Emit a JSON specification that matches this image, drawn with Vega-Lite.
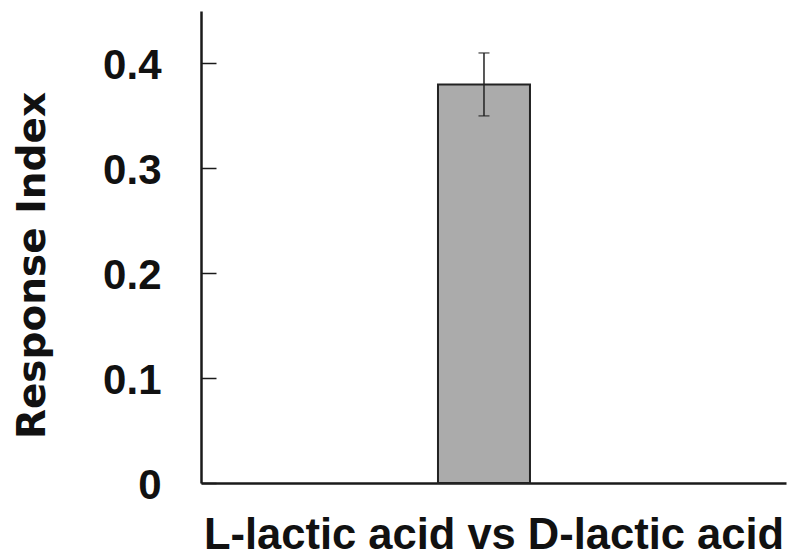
{
  "$schema": "https://vega.github.io/schema/vega-lite/v6.json",
  "autosize": {"type": "none"},
  "padding": {"left": 201, "top": 11, "right": 3, "bottom": 74},
  "width": 585,
  "height": 472,
  "background": "white",
  "config": {"view": {"stroke": null}},
  "data": {"values": [
    {"comparison": "L-lactic acid vs D-lactic acid", "response": 0.38, "lo": 0.35, "hi": 0.41}
  ]},
  "encoding": {
    "x": {
      "field": "comparison", "type": "nominal",
      "scale": {"paddingInner": 0.6268, "paddingOuter": 1, "align": 0.4807},
      "axis": {
        "title": "L-lactic acid vs D-lactic acid",
        "labels": false, "ticks": false, "grid": false,
        "domainColor": "#1a1a1a", "domainWidth": 2.5,
        "titleFont": "Liberation Sans", "titleFontSize": 43.5, "titleFontWeight": "bold",
        "titleColor": "#111", "titleBaseline": "alphabetic", "titleY": 65
      }
    }
  },
  "layer": [
    {
      "mark": {"type": "bar", "fill": "#ababab", "stroke": "#222", "strokeWidth": 2},
      "encoding": {
        "y": {
          "field": "response", "type": "quantitative",
          "scale": {"domain": [0, 0.45], "nice": false},
          "axis": {
            "title": "Response Index",
            "values": [0, 0.1, 0.2, 0.3, 0.4],
            "format": ".1~f",
            "grid": false,
            "domainColor": "#1a1a1a", "domainWidth": 2.5,
            "tickColor": "#1a1a1a", "tickWidth": 1.5, "tickSize": -15,
            "labelFont": "Liberation Sans", "labelFontSize": 42, "labelFontWeight": "bold",
            "labelColor": "#111", "labelPadding": 55, "labelOffset": 2,
            "titleFont": "DejaVu Sans", "titleFontSize": 39, "titleFontWeight": "bold",
            "titleColor": "#111", "titleBaseline": "alphabetic", "titleX": -157, "titleY": 254
          }
        }
      }
    },
    {
      "mark": {"type": "rule", "color": "#222", "strokeWidth": 1.5},
      "encoding": {
        "y": {"field": "lo", "type": "quantitative"},
        "y2": {"field": "hi"}
      }
    },
    {
      "mark": {"type": "tick", "color": "#222", "thickness": 1.5, "size": 11, "orient": "horizontal"},
      "encoding": {"y": {"field": "lo", "type": "quantitative"}}
    },
    {
      "mark": {"type": "tick", "color": "#222", "thickness": 1.5, "size": 11, "orient": "horizontal"},
      "encoding": {"y": {"field": "hi", "type": "quantitative"}}
    }
  ]
}
